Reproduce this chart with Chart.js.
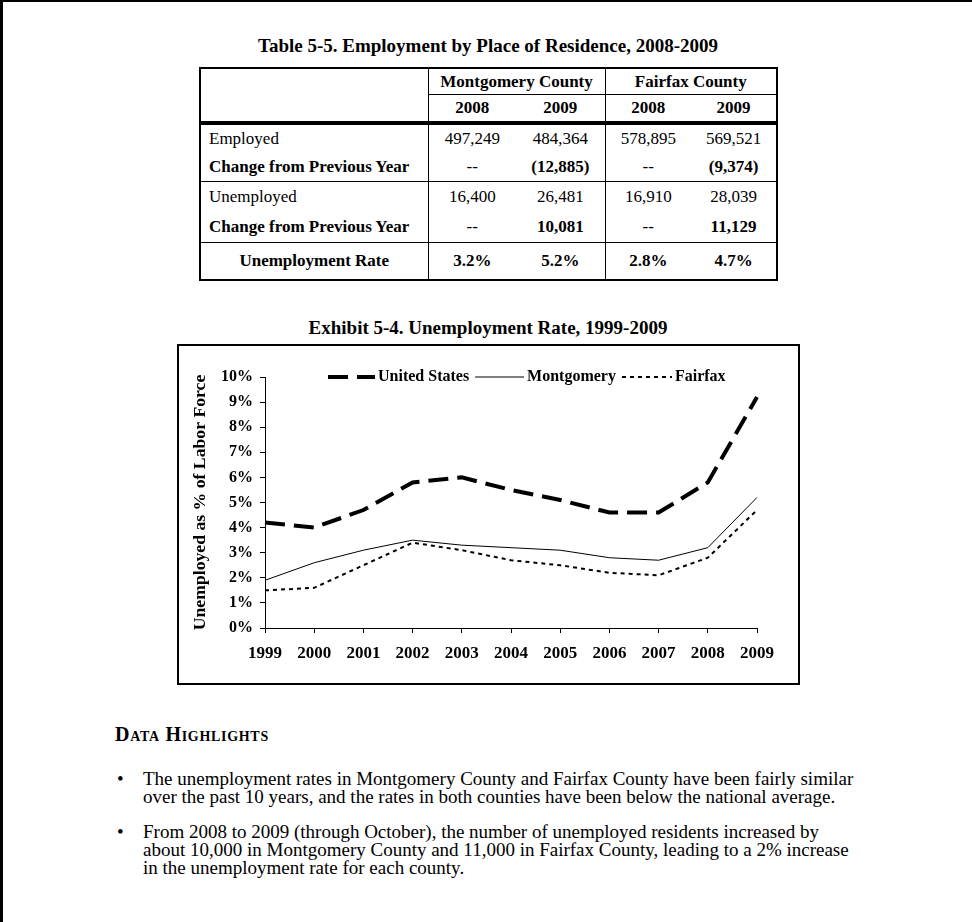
<!DOCTYPE html>
<html lang="en">
<head>
  <meta charset="utf-8" />
  <title>Unemployment Rate, 1999-2009</title>
  <script src="https://cdn.jsdelivr.net/npm/chart.js"></script>
  <style>
    html, body { margin: 0; padding: 0; background: #fff; }
    body { width: 972px; height: 922px; position: relative; overflow: hidden;
           font-family: "Liberation Serif", "Times New Roman", serif; color: #000; }
    .frame { position: absolute; left: 0; top: 0; width: 969px; height: 922px;
             border-top: 2px solid #000; border-left: 3px solid #000; }
    .title { position: absolute; left: 0; width: 976px; text-align: center;
             font-weight: bold; font-size: 19px; line-height: 22px; }

    /* Table 5-5 */
    #tbl { position: absolute; left: 199px; top: 67px; width: 577px;
           border-collapse: collapse; table-layout: fixed; border: 2px solid #000;
           font-size: 17px; }
    #tbl th, #tbl td { padding: 0; text-align: center; }
    #tbl th { font-weight: bold; }
    #tbl .g { border-left: 1px solid #000; }
    #tbl .h1 th { height: 25px; }
    #tbl .h1 th.grp { border-bottom: 1px solid #000; }
    #tbl .h2 th { height: 26px; border-bottom: 4px solid #000; }
    #tbl .r td { height: 28px; }
    #tbl .r2 td { height: 30px; }
    #tbl .sep td { border-bottom: 1px solid #000; }
    #tbl td.lab { text-align: left; padding-left: 8px; }
    #tbl .rate td { height: 36px; font-weight: bold; }

    /* Exhibit 5-4 */
    #box { position: absolute; left: 177px; top: 344px; width: 619px; height: 337px;
           border: 2px solid #000; }
    #box canvas { position: absolute; left: 0; top: 0; }

    /* Data highlights */
    .hl { position: absolute; left: 115px; top: 723px; font-weight: bold;
          font-size: 20px; line-height: 22px; font-variant: small-caps; letter-spacing: 0.7px; }
    .bul { position: absolute; left: 143px; font-size: 19px; line-height: 18px; white-space: nowrap; }
    .bul::before { content: "\2022"; position: absolute; left: -26px; }
  </style>
</head>
<body>
  <div class="frame"></div>

  <div class="title" style="top: 35px;">Table 5-5. Employment by Place of Residence, 2008-2009</div>
  <table id="tbl">
    <colgroup><col style="width:228px"><col style="width:88px"><col style="width:89px"><col style="width:86px"><col style="width:86px"></colgroup>
    <tr class="h1"><th rowspan="2" style="border-bottom:4px solid #000"></th><th colspan="2" class="g grp">Montgomery County</th><th colspan="2" class="g grp">Fairfax County</th></tr>
    <tr class="h2"><th class="g">2008</th><th>2009</th><th class="g">2008</th><th>2009</th></tr>
    <tr class="r"><td class="lab">Employed</td><td class="g">497,249</td><td>484,364</td><td class="g">578,895</td><td>569,521</td></tr>
    <tr class="r sep"><td class="lab"><b>Change from Previous Year</b></td><td class="g">--</td><td><b>(12,885)</b></td><td class="g">--</td><td><b>(9,374)</b></td></tr>
    <tr class="r2"><td class="lab">Unemployed</td><td class="g">16,400</td><td>26,481</td><td class="g">16,910</td><td>28,039</td></tr>
    <tr class="r2 sep"><td class="lab"><b>Change from Previous Year</b></td><td class="g">--</td><td><b>10,081</b></td><td class="g">--</td><td><b>11,129</b></td></tr>
    <tr class="rate"><td>Unemployment Rate</td><td class="g">3.2%</td><td>5.2%</td><td class="g">2.8%</td><td>4.7%</td></tr>
  </table>

  <div class="title" style="top: 317px;">Exhibit 5-4. Unemployment Rate, 1999-2009</div>
  <div id="box"><canvas id="rateChart" width="619" height="337"></canvas></div>

  <div class="hl">Data Highlights</div>
  <div class="bul" style="top: 770px;">The unemployment rates in Montgomery County and Fairfax County have been fairly similar<br>over the past 10 years, and the rates in both counties have been below the national average.</div>
  <div class="bul" style="top: 823px;">From 2008 to 2009 (through October), the number of unemployed residents increased by<br>about 10,000 in Montgomery County and 11,000 in Fairfax County, leading to a 2% increase<br>in the unemployment rate for each county.</div>

  <script>
    // Data (percent of labor force)
    const years = ['1999', '2000', '2001', '2002', '2003', '2004', '2005', '2006', '2007', '2008', '2009'];
    const unitedStates = [4.2, 4.0, 4.7, 5.8, 6.0, 5.5, 5.1, 4.6, 4.6, 5.8, 9.2];
    const montgomery = [1.9, 2.6, 3.1, 3.5, 3.3, 3.2, 3.1, 2.8, 2.7, 3.2, 5.2];
    const fairfax = [1.5, 1.6, 2.5, 3.4, 3.1, 2.7, 2.5, 2.2, 2.1, 2.8, 4.7];

    const serif = '"Liberation Serif", "Times New Roman", serif';

    // Legend drawn inline at the top of the plot, with line samples
    const lineLegend = {
      id: 'lineLegend',
      afterDraw(chart) {
        const ctx = chart.ctx;
        const area = chart.chartArea;
        let x = area.left + 63;
        const y = area.top;
        ctx.save();
        ctx.font = 'bold 16px ' + serif;
        ctx.textBaseline = 'middle';
        ctx.fillStyle = '#000';
        chart.data.datasets.forEach(ds => {
          const w = ds.legendWidth;
          ctx.strokeStyle = ds.borderColor;
          ctx.lineWidth = ds.borderWidth;
          ctx.setLineDash(ds.borderDash || []);
          ctx.beginPath();
          ctx.moveTo(x, y);
          ctx.lineTo(x + w, y);
          ctx.stroke();
          x += w + 3;
          ctx.fillText(ds.label, x, y);
          x += ctx.measureText(ds.label).width + 6;
        });
        ctx.restore();
      }
    };

    new Chart(document.getElementById('rateChart'), {
      type: 'line',
      data: {
        labels: years,
        datasets: [
          { label: 'United States', data: unitedStates, borderColor: '#000', borderWidth: 4,
            borderDash: [20, 9], legendWidth: 47 },
          { label: 'Montgomery', data: montgomery, borderColor: '#000', borderWidth: 1,
            legendWidth: 49 },
          { label: 'Fairfax', data: fairfax, borderColor: '#000', borderWidth: 2,
            borderDash: [4, 4], legendWidth: 50 }
        ]
      },
      options: {
        responsive: false,
        animation: false,
        layout: { padding: { top: 31, right: 41, left: 0, bottom: 0 } },
        elements: { point: { radius: 0 }, line: { tension: 0, borderCapStyle: 'butt' } },
        plugins: { legend: { display: false }, tooltip: { enabled: false } },
        scales: {
          x: {
            grid: { drawOnChartArea: false, color: '#000', tickLength: 5 },
            border: { color: '#000', width: 1 },
            ticks: { color: '#000', padding: 10, maxRotation: 0, autoSkip: false,
                     font: { family: serif, size: 17, weight: 'bold' } },
            afterFit(scale) { scale.height = 55; }
          },
          y: {
            min: 0, max: 10,
            grid: { drawOnChartArea: false, color: '#000', tickLength: 5 },
            border: { color: '#000', width: 1 },
            ticks: { stepSize: 1, color: '#000', padding: 7,
                     font: { family: serif, size: 16, weight: 'bold' },
                     callback: v => v + '%' },
            title: { display: true, text: 'Unemployed as % of Labor Force', color: '#000',
                     padding: { top: 11, bottom: 0 },
                     font: { family: serif, size: 17.7, weight: 'bold' } },
            afterFit(scale) { scale.width = 86; }
          }
        }
      },
      plugins: [lineLegend]
    });
  </script>
</body>
</html>
